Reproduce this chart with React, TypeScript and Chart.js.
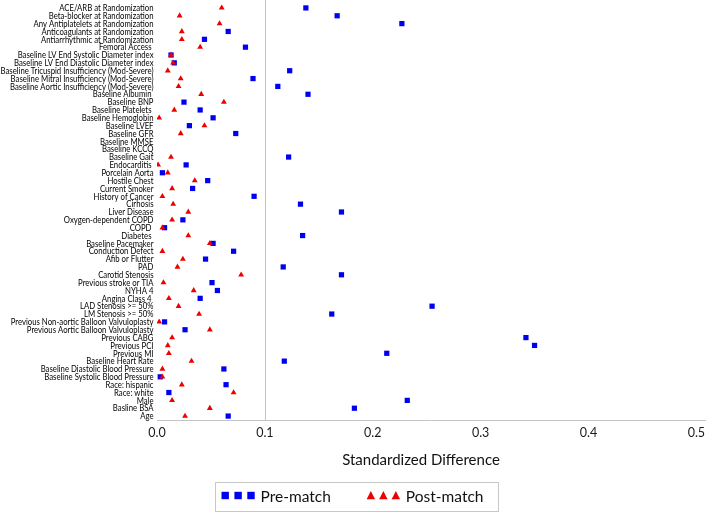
import React, { useEffect, useRef } from 'react';
import { Chart, registerables } from 'chart.js';

Chart.register(...registerables);

const categories = [
  'ACE/ARB at Randomization',
  'Beta-blocker at Randomization',
  'Any Antiplatelets at Randomization',
  'Anticoagulants at Randomization',
  'Antiarrhythmic at Randomization',
  'Femoral Access ',
  'Baseline LV End Systolic Diameter index',
  'Baseline LV End Diastolic Diameter index',
  'Baseline Tricuspid Insufficiency (Mod-Severe)',
  'Baseline Mitral Insufficiency (Mod-Severe)',
  'Baseline Aortic Insufficiency (Mod-Severe)',
  'Baseline Albumin ',
  'Baseline BNP',
  'Baseline Platelets ',
  'Baseline Hemoglobin',
  'Baseline LVEF',
  'Baseline GFR',
  'Baseline MMSE',
  'Baseline KCCQ',
  'Baseline Gait',
  'Endocarditis ',
  'Porcelain Aorta',
  'Hostile Chest',
  'Current Smoker',
  'History of Cancer',
  'Cirhosis',
  'Liver Disease',
  'Oxygen-dependent COPD',
  'COPD ',
  'Diabetes ',
  'Baseline Pacemaker',
  'Conduction Defect',
  'Afib or Flutter',
  'PAD',
  'Carotid Stenosis',
  'Previous stroke or TIA',
  'NYHA 4',
  'Angina Class 4 ',
  'LAD Stenosis >= 50%',
  'LM Stenosis >= 50%',
  'Previous Non-aortic Balloon Valvuloplasty',
  'Previous Aortic Balloon Valvuloplasty',
  'Previous CABG',
  'Previous PCI',
  'Previous MI',
  'Baseline Heart Rate',
  'Baseline Diastolic Blood Pressure',
  'Baseline Systolic Blood Pressure',
  'Race: hispanic',
  'Race: white',
  'Male',
  'Basline BSA',
  'Age',
];

const preMatch: (number | null)[] = [
  0.138, 0.167, 0.227, 0.066, 0.044, 0.082, 0.013, 0.016, 0.123, 0.089,
  0.112, 0.140, 0.025, 0.040, 0.052, 0.030, 0.073, null, null, 0.122,
  0.027, 0.005, 0.047, 0.033, 0.090, 0.133, 0.171, 0.024, 0.007, 0.135,
  0.052, 0.071, 0.045, 0.117, 0.171, 0.051, 0.056, 0.040, 0.255, 0.162,
  0.007, 0.026, 0.342, 0.350, 0.213, 0.118, 0.062, 0.003, 0.064, 0.011,
  0.232, 0.183, 0.066,
];

const postMatch: (number | null)[] = [
  0.060, 0.021, 0.058, 0.023, 0.023, 0.040, 0.013, 0.015, 0.010, 0.022,
  0.020, 0.041, 0.062, 0.016, 0.002, 0.044, 0.022, null, null, 0.013,
  0.001, 0.010, 0.035, 0.014, 0.005, 0.015, 0.029, 0.014, 0.005, 0.029,
  0.049, 0.005, 0.024, 0.019, 0.078, 0.006, 0.034, 0.011, 0.020, 0.039,
  0.002, 0.049, 0.014, 0.010, 0.011, 0.032, 0.005, 0.005, 0.023, 0.071,
  0.014, 0.049, 0.026,
];

const xTicks = [0, 0.1, 0.2, 0.3, 0.4, 0.5];
const xMax = 0.508;
const thresholdLine = 0.1;
const legendLabels = ['Pre-match', 'Post-match'];
const axisTitle = 'Standardized Difference';

const FONT = 'Lato, "Open Sans", sans-serif';
const BLUE = '#0000f0';
const RED = '#ee0000';

const decorPlugin = {
  id: 'decor',
  beforeDatasetsDraw(chart: any) {
    const { ctx, chartArea, scales } = chart;
    const px = Math.round(scales.x.getPixelForValue(thresholdLine)) + 0.5;
    ctx.save();
    ctx.strokeStyle = '#c4c4c4';
    ctx.lineWidth = 1;
    ctx.beginPath();
    ctx.moveTo(px, 0);
    ctx.lineTo(px, chartArea.bottom);
    ctx.stroke();
    ctx.restore();
  },
  afterDraw(chart: any) {
    const { ctx, chartArea, scales } = chart;
    ctx.save();

    // category labels (condensed to mimic the narrow original face)
    const yScale = scales.y;
    const labels: string[] = chart.data.labels;
    ctx.font = `10px ${FONT}`;
    ctx.fillStyle = '#000';
    ctx.textAlign = 'right';
    ctx.textBaseline = 'middle';
    const maxW = Math.max(...labels.map((c) => ctx.measureText(c).width));
    const sx = Math.min(1, 153 / maxW);
    labels.forEach((c, i) => {
      const y = yScale.getPixelForValue(i);
      ctx.save();
      ctx.translate(yScale.right - 3.5, y);
      ctx.scale(sx, 1);
      ctx.fillText(c, 0, 0);
      ctx.restore();
    });

    // axis title
    ctx.font = `15px ${FONT}`;
    ctx.fillStyle = '#111';
    ctx.textAlign = 'center';
    ctx.textBaseline = 'middle';
    ctx.fillText(axisTitle, (chartArea.left + chartArea.right) / 2 - 10, 460);

    // legend
    ctx.font = `15.5px ${FONT}`;
    const tw1 = ctx.measureText(legendLabels[0]).width;
    const tw2 = ctx.measureText(legendLabels[1]).width;
    const mW = 33, gap = 6, itemGap = 36, padL = 6, padR = 15;
    const boxW = padL + mW + gap + tw1 + itemGap + mW + gap + tw2 + padR;
    const boxH = 29;
    const boxTop = 482.5;
    const left = Math.round(chart.width / 2 + 1.5 - boxW / 2) + 0.5;
    ctx.strokeStyle = '#c8c8c8';
    ctx.lineWidth = 1;
    ctx.strokeRect(left, boxTop, Math.round(boxW), boxH);
    const cy = boxTop + boxH / 2 - 1.5;
    let x = left + padL;
    ctx.fillStyle = BLUE;
    for (let i = 0; i < 3; i++) {
      ctx.fillRect(x + i * 12.9, cy - 3.7, 7.4, 7.4);
    }
    x += mW + gap;
    ctx.fillStyle = '#111';
    ctx.textAlign = 'left';
    ctx.fillText(legendLabels[0], x, cy + 1);
    x += tw1 + itemGap;
    ctx.fillStyle = RED;
    for (let i = 0; i < 3; i++) {
      const cx = x + 4 + i * 12.5;
      ctx.beginPath();
      ctx.moveTo(cx, cy - 4.5);
      ctx.lineTo(cx + 4.2, cy + 3.8);
      ctx.lineTo(cx - 4.2, cy + 3.8);
      ctx.closePath();
      ctx.fill();
    }
    x += mW + gap;
    ctx.fillStyle = '#111';
    ctx.fillText(legendLabels[1], x, cy + 1);
    ctx.restore();
  },
};

export default function App() {
  const canvasRef = useRef<HTMLCanvasElement | null>(null);

  useEffect(() => {
    document.body.style.margin = '0';
    const canvas = canvasRef.current;
    if (!canvas) return;
    const chart = new Chart(canvas, {
      type: 'line',
      data: {
        labels: categories,
        datasets: [
          {
            label: legendLabels[1],
            data: postMatch,
            showLine: false,
            pointStyle: 'triangle',
            pointRadius: 3.4,
            pointBorderWidth: 0,
            pointBackgroundColor: RED,
            borderColor: RED,
            backgroundColor: RED,
          },
          {
            label: legendLabels[0],
            data: preMatch,
            showLine: false,
            pointStyle: 'rect',
            pointRadius: 3.7,
            pointBorderWidth: 0,
            pointBackgroundColor: BLUE,
            borderColor: BLUE,
            backgroundColor: BLUE,
          },
        ],
      },
      options: {
        animation: false,
        responsive: false,
        indexAxis: 'y',
        events: [],
        layout: { padding: { top: 2, left: 0, right: 0, bottom: 0 } },
        plugins: {
          legend: { display: false },
          tooltip: { enabled: false },
        },
        scales: {
          y: {
            type: 'category',
            offset: true,
            grid: { display: false, drawTicks: false },
            border: { display: false },
            ticks: { display: false, autoSkip: false },
            afterFit: (scale: any) => {
              scale.width = 157;
            },
          },
          x: {
            type: 'linear',
            min: 0,
            max: xMax,
            grid: { display: false, drawTicks: false },
            border: { display: true, color: '#c4c4c4', width: 1 },
            ticks: {
              padding: 5,
              color: '#1a1a1a',
              font: { family: FONT, size: 12.5 },
              callback: (v: any) => Number(v).toFixed(1),
            },
            afterBuildTicks: (scale: any) => {
              scale.ticks = xTicks.map((v) => ({ value: v }));
            },
            afterFit: (scale: any) => {
              scale.height = 92;
              scale.paddingRight = 0;
            },
          },
        },
      },
      plugins: [decorPlugin],
    } as any);
    return () => chart.destroy();
  }, []);

  return (
    <div style={{ width: 709, height: 512 }}>
      <canvas ref={canvasRef} width={709} height={512} />
    </div>
  );
}
